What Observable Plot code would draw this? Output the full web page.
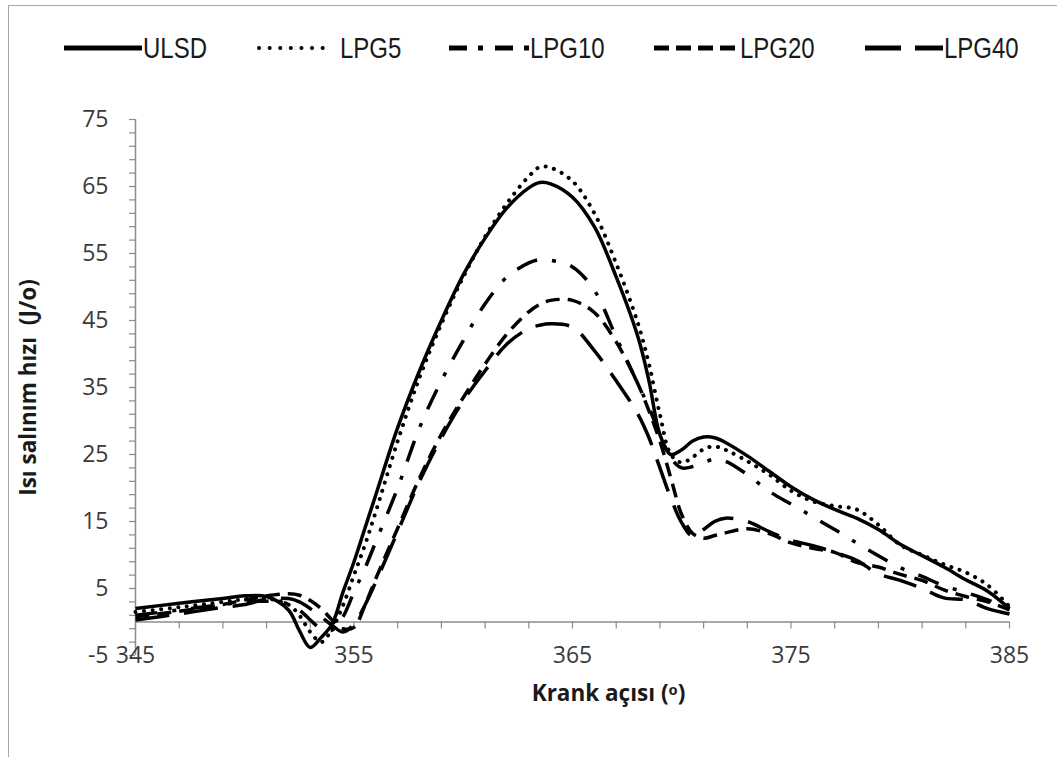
<!DOCTYPE html>
<html>
<head>
<meta charset="utf-8">
<script src="https://cdn.jsdelivr.net/npm/d3@7"></script>
<script src="https://cdn.jsdelivr.net/npm/@observablehq/plot@0.6"></script>
<style>
  html, body { margin: 0; padding: 0; background: #fff; }
  #wrap { position: relative; width: 1057px; height: 757px; overflow: hidden; background: #fff; }
  #frame { position: absolute; left: 8px; top: 5px; width: 1100px; height: 800px; border-left: 1.5px solid #a6a6a6; border-top: 1.5px solid #a6a6a6; }
  #legend { position: relative; height: 80px; }
  .lg-item { position: absolute; top: 0; height: 80px; }
  .lg-item svg { position: absolute; top: 43px; }
  .lg-item span { position: absolute; top: 30px; font-family: "Liberation Sans", Arial, sans-serif; font-size: 30px; line-height: 36px; color: #1a1a1a; white-space: nowrap; transform: scaleX(0.8); transform-origin: 0 50%; }
  #chart { position: relative; }
</style>
</head>
<body>
<div id="wrap">
  <div id="frame"></div>
  <div id="legend"></div>
  <div id="chart"></div>
</div>
<script>
// ---- data ----
const seriesNames = ["ULSD", "LPG5", "LPG10", "LPG20", "LPG40"];
const crankAngle = [345,347,349,350,351,352,352.5,353,353.5,354,354.5,355,355.5,356,357,358,359,360,361,362,363,363.5,364,365,366,367,368,368.5,369,369.5,370,370.5,371,371.5,372,373,374,375,376,377,378,379,380,381,382,383,384,385];
const ULSD  = [2.0,2.8,3.5,3.9,3.8,1.8,-1.3,-3.8,-2.3,-0.3,4.5,9.0,14.0,19.0,29.0,37.5,45.0,51.8,57.3,61.8,64.8,65.6,65.4,63.4,59.0,51.5,42.5,36.0,28.0,25.0,25.7,27.0,27.6,27.5,26.8,24.8,22.5,20.2,18.3,16.8,15.5,13.8,11.6,9.9,8.2,6.3,4.6,2.0];
const LPG5  = [1.5,2.2,3.0,3.4,3.5,2.6,1.0,-1.5,-3.0,-1.0,2.5,7.0,11.5,16.5,27.0,36.5,44.5,51.5,57.5,62.5,66.5,67.9,67.8,65.8,61.0,53.5,44.5,38.5,31.0,25.0,23.8,24.6,25.8,26.2,25.7,24.0,22.0,19.6,18.0,17.3,16.8,14.5,11.5,10.0,8.6,7.4,5.5,2.3];
const LPG10 = [1.0,1.8,2.6,3.0,3.1,2.7,1.8,0.3,-1.0,-1.2,0.8,4.5,8.0,12.0,20.0,29.0,36.0,42.0,47.5,51.5,53.6,54.1,54.0,53.0,49.5,42.5,35.5,32.0,28.0,24.5,23.0,23.2,23.8,24.3,24.0,22.0,19.5,17.6,15.7,13.8,11.8,9.9,8.1,6.8,5.4,4.4,3.3,2.0];
const LPG20 = [0.8,1.6,2.6,3.3,3.9,4.2,4.0,3.2,2.0,0.3,-1.0,-0.8,2.5,6.5,14.0,21.5,28.0,33.5,38.5,43.0,46.3,47.4,48.0,48.0,46.2,41.8,35.5,31.5,27.0,21.5,16.0,13.2,12.5,12.9,13.3,13.9,13.2,11.8,11.0,10.4,8.9,8.2,7.1,6.2,4.8,3.8,3.0,1.8];
const LPG40 = [0.3,1.2,2.2,2.6,3.4,3.5,3.0,2.0,0.8,-0.5,-1.5,-0.3,2.5,6.0,13.5,21.0,27.5,33.0,37.5,41.5,43.8,44.3,44.5,44.0,40.5,36.0,31.0,27.5,23.0,18.5,14.8,12.8,13.8,15.0,15.5,15.0,13.5,12.2,11.4,10.4,9.2,7.2,6.2,5.0,3.6,3.3,2.0,1.2];
const xTickLabels = [345, 355, 365, 375, 385];
const yTickLabels = [-5, 5, 15, 25, 35, 45, 55, 65, 75];
const xTitle = "Krank açısı (ᵒ)";
const yTitle = "Isı salınım hızı  (J/o)";

// ---- styles (not data) ----
const lineStyle = {
  ULSD:  {dash: null, cap: "butt"},
  LPG5:  {dash: "0.1,8.5", cap: "round"},
  LPG10: {dash: "22,15,4,15", cap: "butt"},
  LPG20: {dash: "14,8", cap: "butt"},
  LPG40: {dash: "34,15", cap: "butt"}
};
const legendLayout = {
  ULSD:  {x: 64,  len: 78, textX: 143, dash: null, cap: "butt"},
  LPG5:  {x: 259, len: 66, textX: 340, dash: "0.1,10.5", cap: "round"},
  LPG10: {x: 449, len: 80, textX: 530, dash: "18,11,5,12", cap: "butt"},
  LPG20: {x: 654, len: 82, textX: 740, dash: "15,7", cap: "butt"},
  LPG40: {x: 865, len: 78, textX: 944, dash: "36,14", cap: "butt"}
};

const valuesByName = {ULSD, LPG5, LPG10, LPG20, LPG40};
const rows = seriesNames.flatMap(name => crankAngle.map((a, i) => ({name, angle: a, value: valuesByName[name][i]})));

// ---- legend ----
const legend = document.getElementById("legend");
for (const name of seriesNames) {
  const L = legendLayout[name];
  const item = document.createElement("div");
  item.className = "lg-item";
  item.style.left = "0px";
  const ns = "http://www.w3.org/2000/svg";
  const svg = document.createElementNS(ns, "svg");
  svg.setAttribute("width", L.len + 6);
  svg.setAttribute("height", 10);
  svg.style.left = (L.x - 3) + "px";
  const ln = document.createElementNS(ns, "line");
  ln.setAttribute("x1", 3); ln.setAttribute("x2", L.len + 3);
  ln.setAttribute("y1", 5); ln.setAttribute("y2", 5);
  ln.setAttribute("stroke", "#000");
  ln.setAttribute("stroke-width", name === "LPG5" ? 4 : 5);
  ln.setAttribute("stroke-linecap", L.cap);
  if (L.dash) ln.setAttribute("stroke-dasharray", L.dash);
  svg.appendChild(ln);
  item.appendChild(svg);
  const sp = document.createElement("span");
  sp.textContent = name;
  sp.style.left = L.textX + "px";
  item.appendChild(sp);
  legend.appendChild(item);
}

// ---- chart ----
const W = 1057, H = 677;
const mTop = 39, mBottom = 102, mLeft = 135, mRight = 48;
const xDomain = [xTickLabels[0], xTickLabels[xTickLabels.length - 1]];
const yDomain = [yTickLabels[0], yTickLabels[yTickLabels.length - 1]];
const plotH = H - mTop - mBottom;
const zeroShift = -plotH * (0 - yDomain[0]) / (yDomain[1] - yDomain[0]);
const xMinor = d3.range(xDomain[0], xDomain[1] + 0.001, 2);
const yMinor = d3.range(yDomain[0], yDomain[1] + 0.001, 2);
const axisGray = "#8c8c8c";

const marks = [
  // y axis line and ticks
  Plot.ruleX([xDomain[0]], {stroke: axisGray, strokeWidth: 1.5}),
  Plot.axisY({ticks: yMinor, tickSize: 6, tickFormat: () => "", label: null, stroke: axisGray, strokeWidth: 1.2}),
  Plot.axisY({ticks: yTickLabels, tickSize: 0, tickPadding: 27, tickFormat: d => String(d), label: null, fontSize: 23, fill: "#3a3a3a"}),
  // x axis line at zero, with ticks below it
  Plot.ruleY([0], {stroke: axisGray, strokeWidth: 1.5}),
  Plot.axisX({ticks: xMinor, tickSize: 7, tickFormat: () => "", label: null, dy: zeroShift, stroke: axisGray, strokeWidth: 1.2}),
  Plot.text(xTickLabels, {x: d => d, y: yDomain[0], text: d => String(d), lineAnchor: "middle", textAnchor: "middle", fontSize: 23, fill: "#3a3a3a"}),
  // titles
  Plot.text([yTitle], {frameAnchor: "left", textAnchor: "middle", rotate: -90, dx: -107, fontSize: 22.5, fontWeight: "bold", fill: "#1a1a1a"}),
  Plot.text([xTitle], {frameAnchor: "bottom", textAnchor: "middle", dy: 45, dx: 36, fontSize: 22.5, fontWeight: "bold", fill: "#1a1a1a"})
];
for (const name of seriesNames) {
  const s = lineStyle[name];
  marks.push(Plot.line(rows.filter(r => r.name === name), {
    x: "angle", y: "value", curve: "catmull-rom",
    stroke: "#000", strokeWidth: name === "LPG5" ? 4 : 3.5,
    strokeDasharray: s.dash || undefined, strokeLinecap: s.cap, strokeLinejoin: "round"
  }));
}

const chart = Plot.plot({
  width: W, height: H,
  marginTop: mTop, marginBottom: mBottom, marginLeft: mLeft, marginRight: mRight,
  x: {domain: xDomain, axis: null},
  y: {domain: yDomain, axis: null},
  style: {fontFamily: "'Open Sans', 'Noto Sans', sans-serif", background: "transparent", overflow: "visible"},
  marks
});
document.getElementById("chart").appendChild(chart);
</script>
</body>
</html>
